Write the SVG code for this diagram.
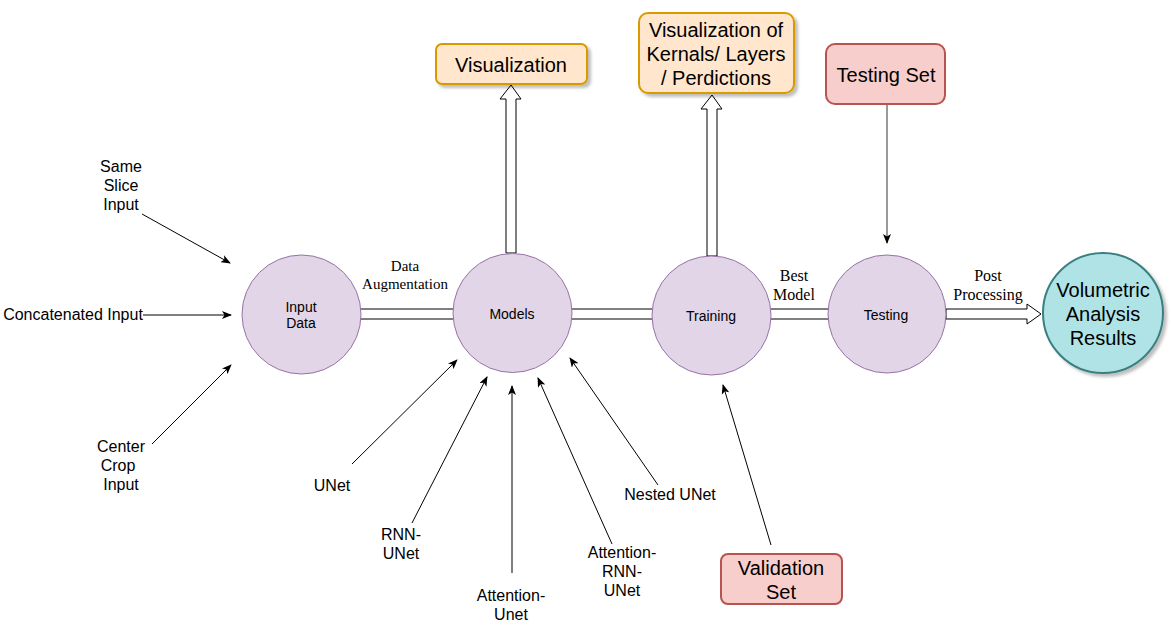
<svg xmlns="http://www.w3.org/2000/svg" width="1172" height="632" viewBox="0 0 1172 632">
<style>
.t{font-family:"Liberation Sans",Arial,sans-serif;fill:#000;text-anchor:middle}
.s16{font-size:16px}
.s14{font-size:14px}
.s20{font-size:20px}
.serif{font-family:"Liberation Serif","Times New Roman",serif;font-size:15px;fill:#000;text-anchor:middle}
.serif16{font-size:16px}
.node{fill:#e1d5e7;stroke:#9673a6;stroke-width:1}
.orange{fill:#ffe6cc;stroke:#d79b00;stroke-width:2}
.red{fill:#f8cecc;stroke:#b85450;stroke-width:2}
.teal{fill:#b0e3e6;stroke:#3a7f80;stroke-width:2}
.ln{stroke:#000;stroke-width:1;fill:none}
.flex{fill:#fff;stroke:#000;stroke-width:1}
</style>
<defs>
<marker id="arr" viewBox="0 0 10 8" refX="9" refY="4" markerWidth="10" markerHeight="8" markerUnits="userSpaceOnUse" orient="auto">
<path d="M0,0 L10,4 L0,8 L2.5,4 z" fill="#000"/>
</marker>
<filter id="sh" x="-20%" y="-20%" width="150%" height="150%">
<feDropShadow dx="3" dy="3" stdDeviation="1.5" flood-color="#000" flood-opacity="0.25"/>
</filter>
</defs>
<rect width="1172" height="632" fill="#fff"/>
<g id="connectors">
<line class="ln" x1="361" y1="309" x2="453" y2="309"/>
<line class="ln" x1="361" y1="319" x2="453" y2="319"/>
<line class="ln" x1="572" y1="309" x2="652" y2="309"/>
<line class="ln" x1="572" y1="319" x2="652" y2="319"/>
<line class="ln" x1="771" y1="309" x2="828" y2="309"/>
<line class="ln" x1="771" y1="319" x2="828" y2="319"/>
<polygon class="flex" points="946,309 1027,309 1027,304 1041,314 1027,324 1027,319 946,319"/>
<polygon class="flex" points="506,253 506,99 500,99 511,85 521,99 516,99 516,253"/>
<polygon class="flex" points="707,256 707,109 701,109 712,95 722,109 717,109 717,256"/>
<line class="ln" x1="142" y1="214" x2="230" y2="263" marker-end="url(#arr)"/>
<line class="ln" x1="143" y1="315" x2="231" y2="315" marker-end="url(#arr)"/>
<line class="ln" x1="152" y1="444" x2="231" y2="365" marker-end="url(#arr)"/>
<line class="ln" x1="352" y1="464" x2="457" y2="360" marker-end="url(#arr)"/>
<line class="ln" x1="412" y1="523" x2="487" y2="377" marker-end="url(#arr)"/>
<line class="ln" x1="512" y1="573" x2="512" y2="386" marker-end="url(#arr)"/>
<line class="ln" x1="612" y1="544" x2="538" y2="378" marker-end="url(#arr)"/>
<line class="ln" x1="658" y1="485" x2="570" y2="358" marker-end="url(#arr)"/>
<line class="ln" x1="771" y1="545" x2="723" y2="385" marker-end="url(#arr)"/>
<line x1="887" y1="104" x2="887" y2="243" stroke="#555" stroke-width="1.2" marker-end="url(#arr)"/>
</g>
<g id="input-data">
<circle class="node" cx="301.5" cy="314.5" r="59.5"/>
<text class="t s14" x="301" y="312">Input</text>
<text class="t s14" x="301" y="328">Data</text>
</g>
<g id="models">
<circle class="node" cx="512.5" cy="313" r="59.5"/>
<text class="t s14" x="512" y="319">Models</text>
</g>
<g id="training">
<circle class="node" cx="711.5" cy="315.5" r="59.5"/>
<text class="t s14" x="711" y="321">Training</text>
</g>
<g id="testing">
<circle class="node" cx="887" cy="314" r="59"/>
<text class="t s14" x="886" y="320">Testing</text>
</g>
<g id="volumetric">
<circle class="teal" cx="1103" cy="313" r="60" filter="url(#sh)"/>
<text class="t s20" x="1103" y="297">Volumetric</text>
<text class="t s20" x="1103" y="321">Analysis</text>
<text class="t s20" x="1103" y="345">Results</text>
</g>
<g id="visualization">
<rect class="orange" x="436" y="44" width="151" height="40" rx="6" filter="url(#sh)"/>
<text class="t s20" x="511" y="72">Visualization</text>
</g>
<g id="visualization-kernals">
<rect class="orange" x="639" y="13" width="155" height="80" rx="9" filter="url(#sh)"/>
<text class="t s20" x="716" y="37">Visualization of</text>
<text class="t s20" x="716" y="61">Kernals/ Layers</text>
<text class="t s20" x="716" y="85">/ Perdictions</text>
</g>
<g id="testing-set">
<rect class="red" x="826" y="44" width="119" height="60" rx="9"/>
<text class="t s20" x="886" y="82">Testing Set</text>
</g>
<g id="validation-set">
<rect class="red" x="721" y="554" width="121" height="50" rx="7"/>
<text class="t s20" x="781" y="575">Validation</text>
<text class="t s20" x="781" y="599">Set</text>
</g>
<g id="labels">
<text class="t s16" x="121" y="172">Same</text>
<text class="t s16" x="121" y="191">Slice</text>
<text class="t s16" x="121" y="210">Input</text>
<text class="t s16" x="73" y="320">Concatenated Input</text>
<text class="t s16" x="121" y="452">Center</text>
<text class="t s16" x="118" y="471">Crop</text>
<text class="t s16" x="121" y="490">Input</text>
<text class="t s16" x="332" y="491">UNet</text>
<text class="t s16" x="401" y="540">RNN-</text>
<text class="t s16" x="401" y="559">UNet</text>
<text class="t s16" x="511" y="601">Attention-</text>
<text class="t s16" x="511" y="620">Unet</text>
<text class="t s16" x="622" y="558">Attention-</text>
<text class="t s16" x="622" y="577">RNN-</text>
<text class="t s16" x="622" y="596">UNet</text>
<text class="t s16" x="670" y="500">Nested UNet</text>
<text class="serif" x="405" y="271">Data</text>
<text class="serif" x="405" y="289">Augmentation</text>
<text class="serif serif16" x="794" y="281">Best</text>
<text class="serif serif16" x="794" y="300">Model</text>
<text class="serif serif16" x="988" y="281">Post</text>
<text class="serif serif16" x="988" y="300">Processing</text>
</g>
</svg>
